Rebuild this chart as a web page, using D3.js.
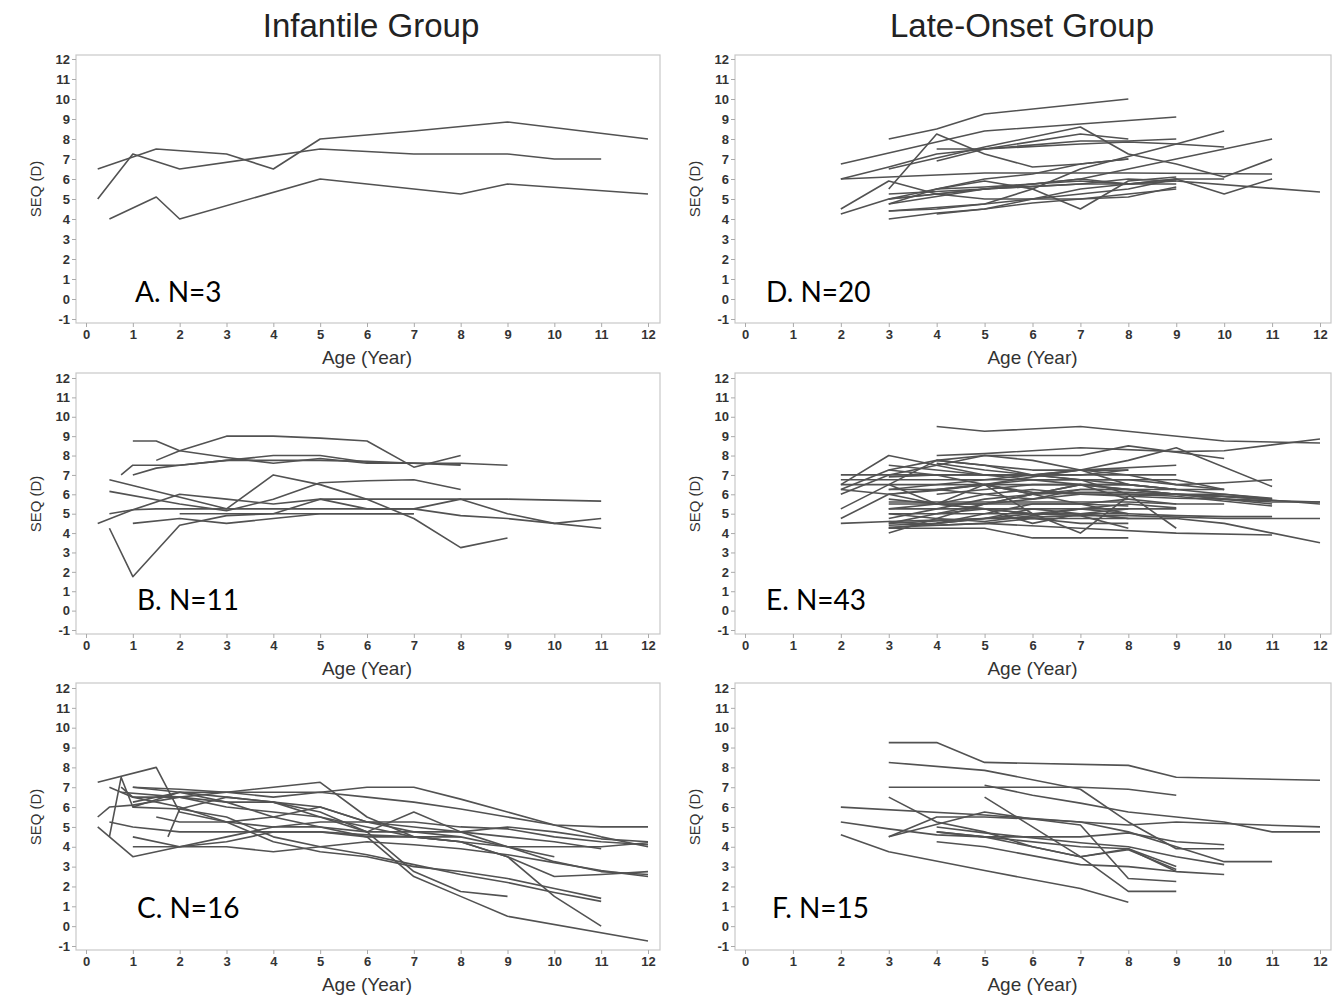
<!DOCTYPE html>
<html>
<head>
<meta charset="utf-8">
<script src="https://cdn.jsdelivr.net/npm/d3@7"></script>
<style>
  body { margin: 0; background: #fff; }
  svg { display: block; font-family: "Liberation Sans", Arial, sans-serif; }
  .tick text { font-weight: bold; fill: #333; font-size: 13px; }
  .tick line { stroke: #aaa; }
  .frame { fill: none; stroke: #c8c8c8; stroke-width: 1.2; }
  .subject { fill: none; stroke: #525252; stroke-width: 1.6; stroke-linejoin: round; }
  .axisTitle { fill: #333; }
  .panelLabel { font-family: Lato, "Open Sans", sans-serif; font-size: 28px; fill: #000; }
  .groupTitle { font-size: 33px; fill: #222; text-anchor: middle; }
</style>
</head>
<body>
<svg id="chart" width="1341" height="996"></svg>
<script>

// tick labels
var xTickValues = [0, 1, 2, 3, 4, 5, 6, 7, 8, 9, 10, 11, 12];
var yTickValues = [-1, 0, 1, 2, 3, 4, 5, 6, 7, 8, 9, 10, 11, 12];
var groupTitles = ["Infantile Group", "Late-Onset Group"];

// each subject: list of [age (year), SEQ (D)]
var panelA = [
    [[0.25,5.0],[1,7.25],[2,6.5],[5,7.5],[7,7.25],[9,7.25],[10,7.0],[11,7.0]],
    [[0.25,6.5],[1.5,7.5],[3,7.25],[4,6.5],[5,8.0],[7,8.4],[9,8.85],[12,8.0]],
    [[0.5,4.0],[1.5,5.1],[2,4.0],[5,6.0],[8,5.25],[9,5.75],[12,5.25]]
];

var panelB = [
    [[1,8.75],[1.5,8.75],[2,8.25],[3,7.9],[4,7.6],[5,7.85],[6,7.6],[7,7.6],[8,7.5]],
    [[1.5,7.75],[2,8.25],[3,9.0],[4,9.0],[5,8.9],[6,8.75],[7,7.4],[8,8.0]],
    [[0.75,7.0],[1,7.5],[2,7.5],[3,7.75],[4,8.0],[5,8.0],[6,7.65],[7,7.6],[8,7.6],[9,7.5]],
    [[1,7.0],[1.5,7.35],[2,7.5],[3,7.75],[4,7.75],[5,7.75],[6,7.7],[7,7.6],[8,7.55]],
    [[0.5,6.75],[3,5.25],[4,7.0],[5,6.5],[6,5.75],[7,4.75],[8,3.25],[9,3.75]],
    [[0.5,6.15],[2,5.5],[3,5.15],[4,5.75],[5,6.6],[6,6.7],[7,6.75],[8,6.25]],
    [[0.25,4.5],[1,5.2],[2,6.0],[3,5.75],[4,5.5],[5,5.75],[6,5.75],[7,5.75],[8,5.75],[9,5.75],[10,5.7],[11,5.65]],
    [[0.5,4.25],[1,1.75],[2,4.4],[3,4.9],[4,5.0],[5,5.75],[6,5.25],[7,5.25],[8,5.75],[9,5.0],[10,4.5],[11,4.25]],
    [[1,4.5],[2,4.75],[3,4.5],[4,4.75],[5,5.0],[6,5.0],[7,5.0]],
    [[0.5,5.0],[1,5.2],[1.5,5.25],[2,5.25],[7,5.25],[8,4.9],[9,4.75],[10,4.5],[11,4.75]],
    [[2,5.0],[4,5.0],[7,5.0]]
];

var panelC = [
    [[0.25,7.25],[1.5,8.0],[2,5.75],[3,5.25],[4,5.0],[5,5.0],[6,4.75],[7,4.75],[8,4.75],[9,5.0],[10,4.75],[11,4.4],[12,4.25]],
    [[0.5,4.5],[0.75,7.5],[1,6.0],[2,6.75],[3,6.75],[4,7.0],[5,7.25],[6,5.5],[7,4.5],[8,4.25],[9,3.5],[10,1.5],[11,0.0]],
    [[0.25,5.0],[1,3.5],[2,4.0],[3,4.5],[4,5.0],[5,5.25],[6,5.25],[7,5.25],[8,5.0],[9,4.9],[10,4.5],[11,4.25],[12,4.1]],
    [[0.25,5.5],[0.5,6.0],[1,6.1],[2,6.5],[3,6.75],[4,6.75],[5,6.75],[6,7.0],[7,7.0],[8,6.4],[9,5.75],[10,5.1],[11,4.5],[12,4.0]],
    [[0.5,7.0],[1,6.5],[2,6.0],[3,5.25],[4,4.25],[5,3.75],[6,3.5],[7,3.0],[8,2.75],[9,2.4],[10,1.9],[11,1.4]],
    [[0.5,5.25],[1,5.0],[2,4.75],[3,4.75],[4,4.75],[5,4.75],[6,4.5],[7,4.5],[8,4.25],[9,3.5],[10,2.5],[11,2.6],[12,2.75]],
    [[1,4.5],[2,4.0],[3,4.0],[4,3.75],[5,4.0],[6,4.25],[7,4.1],[8,3.9],[9,3.6],[10,3.2],[11,2.8],[12,2.5]],
    [[1,7.0],[2,6.9],[3,6.75],[4,6.5],[5,6.75],[6,6.5],[7,6.25],[8,5.9],[9,5.5],[10,5.1],[11,5.0],[12,5.0]],
    [[1,6.25],[2,6.75],[3,6.25],[4,5.5],[5,5.0],[6,4.5],[7,2.5],[8,1.5],[9,0.5],[12,-0.75]],
    [[0.75,6.75],[2,6.5],[3,6.0],[4,5.75],[5,5.5],[6,4.75],[7,2.75],[8,1.75],[9,1.5]],
    [[1.5,5.5],[2,5.25],[3,5.25],[4,5.5],[5,6.0],[6,5.25],[7,4.75],[8,4.5],[9,4.0],[10,3.5]],
    [[1,6.0],[2,5.9],[3,5.5],[4,4.5],[5,4.0],[6,3.6],[7,3.1],[8,2.6],[9,2.2],[10,1.7],[11,1.25]],
    [[1,7.0],[2,6.75],[3,6.5],[4,6.25],[5,6.0],[6,5.25],[7,5.0],[8,4.75],[9,4.5],[10,4.25],[11,3.9]],
    [[1.75,4.5],[2,5.9],[3,6.5],[4,6.25],[5,5.75],[6,4.75],[7,5.75],[8,4.75],[9,4.0],[10,3.25],[11,2.75],[12,2.6]],
    [[1,4.0],[2,4.0],[3,4.25],[4,4.75],[5,4.75],[6,4.6],[7,4.5],[8,4.5]],
    [[0.75,7.0],[1,6.5],[2,6.5],[3,6.25],[4,6.25],[5,5.5],[6,5.0],[7,4.5],[8,4.25],[9,4.0],[10,4.0],[11,4.0],[12,4.2]]
];

var panelD = [
    [[3,8.0],[4,8.5],[5,9.25],[8,10.0]],
    [[2,6.75],[5,8.4],[7,8.75],[9,9.1]],
    [[3,5.5],[4,8.25],[5,7.25],[6,6.6],[7,6.75],[8,7.0]],
    [[3,6.5],[5,7.6],[7,8.6],[8,7.25],[9,6.75],[10,6.1],[11,7.0]],
    [[4,7.5],[5,7.5],[7,7.75],[8,7.85],[9,7.75],[10,7.6]],
    [[4,6.9],[5,7.5],[7,8.25],[8,8.0]],
    [[2,6.0],[5,6.3],[8,6.3],[11,6.25]],
    [[2,6.0],[3,6.6],[4,7.25],[5,7.5],[7,7.9],[8,7.9],[9,8.0]],
    [[3,4.4],[5,4.75],[6,5.5],[7,6.5],[9,7.75],[10,8.4]],
    [[3,4.75],[5,5.5],[7,6.0],[9,7.0],[11,8.0]],
    [[3,5.0],[5,5.5],[7,5.75],[8,6.0],[9,5.9],[12,5.35]],
    [[3,5.25],[5,5.5],[7,5.75],[8,5.75],[9,6.0],[10,5.25],[11,6.0]],
    [[3,5.0],[4,5.5],[5,5.9],[6,5.5],[7,4.5],[8,5.9],[9,6.1]],
    [[2,4.5],[3,5.9],[4,5.25],[5,5.0],[6,5.0],[7,5.25],[8,5.5],[9,6.0]],
    [[2,4.25],[3,5.0],[4,5.25],[5,5.5],[6,5.75],[7,5.9],[8,5.75],[9,5.9]],
    [[3,4.4],[4,4.5],[5,4.75],[6,5.0],[7,5.0],[8,5.25],[9,5.5]],
    [[3,4.0],[4,4.3],[5,4.5],[6,4.8],[7,5.0],[8,5.1],[9,5.6]],
    [[4,4.25],[5,4.5],[6,5.0],[7,5.5],[8,5.75],[9,6.0],[10,6.0]],
    [[3,4.75],[4,5.5],[5,6.0],[6,6.25],[7,6.75],[8,7.0]],
    [[4,5.5],[5,5.6],[6,5.75],[7,6.0],[8,5.75],[9,5.75]]
];

var panelE = [
    [[4,9.5],[5,9.25],[7,9.5],[10,8.75],[12,8.65]],
    [[4,8.0],[5,8.1],[7,8.4],[9,8.2],[10,8.25],[12,8.85]],
    [[4,7.75],[5,8.0],[7,8.0],[8,8.5],[10,7.85]],
    [[3,6.25],[5,6.75],[7,7.25],[8,7.75],[9,8.4],[11,6.4]],
    [[2,6.5],[3,8.0],[4,7.5],[5,7.0],[7,6.5],[9,6.0],[11,5.75]],
    [[2,7.0],[3,7.0],[5,7.0],[7,7.0],[8,7.0],[9,7.0]],
    [[2,6.75],[4,6.75],[6,6.75],[8,6.75],[9,6.75],[10,6.25]],
    [[2,6.5],[4,6.5],[6,6.5],[8,6.5]],
    [[2,6.25],[3,7.25],[4,7.75],[5,7.5],[6,7.25],[7,7.25],[8,7.25]],
    [[2,6.0],[3,7.0],[4,7.5],[5,8.0],[6,7.75],[7,7.25],[8,6.5],[9,6.25]],
    [[2,5.25],[3,6.5],[4,7.75],[5,7.5],[6,7.0],[7,7.0],[8,7.25]],
    [[2,4.75],[3,6.0],[4,6.25],[5,6.5],[6,6.0],[7,6.25],[8,6.25],[9,6.0],[10,5.75],[11,5.5]],
    [[2,4.5],[3,4.6],[5,4.75],[7,4.9],[8,4.9],[10,4.75],[12,4.75]],
    [[3,7.5],[4,7.25],[5,7.0],[6,7.0],[7,7.25],[9,7.5]],
    [[3,7.25],[4,7.0],[5,6.5],[6,6.1],[7,6.0],[8,5.9],[9,5.8],[10,5.75],[12,5.6]],
    [[3,6.9],[4,7.0],[6,7.0],[7,6.75],[8,6.0],[9,4.25]],
    [[3,6.5],[4,5.5],[5,5.25],[6,5.0],[7,4.9],[8,4.25]],
    [[3,6.0],[4,6.2],[5,6.5],[6,6.9],[7,7.25],[8,7.0],[9,6.5],[10,6.25]],
    [[3,5.75],[4,5.5],[5,6.5],[6,5.0],[7,4.0],[8,5.9],[9,6.0],[10,6.0],[11,5.75]],
    [[3,5.6],[5,5.6],[7,5.6],[8,5.6],[9,5.5],[10,5.5]],
    [[3,5.5],[5,5.5],[7,5.5],[8,5.4]],
    [[3,5.25],[5,5.25],[7,5.25],[8,5.25],[9,5.25]],
    [[3,5.0],[5,5.0],[7,5.0],[8,5.0],[9,4.9],[10,4.85],[11,4.85]],
    [[3,4.75],[4,5.25],[5,5.75],[6,6.0],[7,6.1],[8,6.1],[9,6.0],[10,5.9],[11,5.75]],
    [[3,4.5],[4,5.0],[5,5.5],[6,5.75],[7,6.0],[8,6.0],[9,5.9],[11,5.4]],
    [[3,4.4],[4,4.5],[5,5.0],[6,5.5],[7,5.5],[8,5.75]],
    [[3,4.25],[4,4.5],[5,4.75],[6,5.0],[7,5.25],[8,5.0]],
    [[3,4.0],[4,4.75],[5,5.5],[6,6.0],[7,6.5],[8,6.25],[9,6.0],[10,5.9],[12,5.5]],
    [[3,4.25],[5,4.25],[6,3.75],[8,3.75]],
    [[3,4.3],[5,4.5],[7,4.25],[9,4.0],[11,3.9]],
    [[3,4.5],[5,4.75],[7,4.75],[9,4.75],[10,4.5],[12,3.5]],
    [[4,5.5],[5,5.5],[6,6.0],[7,6.5],[8,5.75],[9,5.5]],
    [[4,5.0],[5,5.25],[6,4.5],[7,5.0],[8,5.25]],
    [[4,4.5],[5,4.75],[6,5.25],[7,5.0],[8,4.75],[9,4.75]],
    [[4,6.25],[5,6.5],[6,6.75],[7,6.75],[8,6.75],[9,6.5],[10,6.6],[11,6.75]],
    [[4,6.0],[5,6.25],[6,6.5],[7,6.5],[8,6.5],[9,6.25],[10,6.25]],
    [[5,6.5],[6,6.0],[7,5.5],[8,5.0]],
    [[3,6.25],[4,6.25],[5,6.0],[6,5.75],[7,6.25],[8,6.25],[9,6.25]],
    [[3,4.6],[4,4.4],[5,4.5],[6,4.75],[7,4.5],[8,4.5]],
    [[2,6.25],[3,6.0],[4,5.5],[5,5.25],[6,5.0],[7,5.0],[8,4.75]],
    [[3,5.25],[4,5.5],[5,6.0],[6,6.25],[7,6.0],[8,6.0],[9,6.0],[10,5.75],[11,5.6],[12,5.6]],
    [[3,5.0],[4,4.75],[5,4.6],[6,4.9],[7,5.25],[8,5.5],[9,5.3]],
    [[4,7.6],[5,7.25],[6,7.0],[7,6.75],[8,6.5],[9,6.25],[10,6.0],[11,5.8]]
];

var panelF = [
    [[3,9.25],[4,9.25],[5,8.25],[8,8.1],[9,7.5],[12,7.35]],
    [[3,8.25],[5,7.85],[7,6.9],[8,5.25],[9,3.9],[10,3.9]],
    [[3,7.0],[7,7.0],[8,6.9],[9,6.6]],
    [[5,7.1],[6,6.6],[7,6.2],[8,5.75],[9,5.5],[10,5.25],[11,4.75],[12,4.75]],
    [[2,6.0],[5,5.6],[7,5.25],[8,5.1],[9,5.25],[12,5.0]],
    [[2,5.25],[3,4.9],[4,4.6],[5,4.5],[7,4.5],[8,4.7],[9,4.25],[10,4.1]],
    [[2,4.6],[3,3.75],[5,2.8],[7,1.9],[8,1.2]],
    [[3,6.5],[4,5.25],[5,4.75],[6,4.0],[7,3.5],[8,3.9],[9,2.75]],
    [[5,6.5],[6,5.0],[7,3.5],[8,1.75],[9,1.75]],
    [[3,4.5],[5,5.75],[6,5.4],[7,5.1],[8,2.4],[9,2.25]],
    [[3,4.5],[4,5.5],[5,5.5],[6,5.4],[7,5.25],[8,4.75],[9,4.0],[10,3.25],[11,3.25]],
    [[4,4.75],[5,4.5],[6,4.0],[7,3.5],[8,3.85],[9,2.85]],
    [[4,4.25],[5,4.0],[7,3.1],[8,3.0],[9,2.75],[10,2.6]],
    [[4,5.0],[5,4.7],[7,4.2],[8,4.0],[9,3.5],[10,3.1]],
    [[4,4.75],[5,4.5],[7,4.0],[8,3.9],[9,3.0]]
];

// page layout: two columns, three rows of panels
var columns = [
    {frameLeft: 76, frameRight: 660, x0: 86, x12: 648, titleX: 371},
    {frameLeft: 735, frameRight: 1331, x0: 745, x12: 1320, titleX: 1022}
];
var rows = [
    {frameTop: 55, frameBottom: 323, y12: 59, yMinus1: 319, labelY: 302},
    {frameTop: 373, frameBottom: 634, y12: 378, yMinus1: 630, labelY: 610},
    {frameTop: 683, frameBottom: 950, y12: 688, yMinus1: 946, labelY: 918}
];

var panels = [
    {data: panelA, col: 0, row: 0, label: "A. N=3", labelX: 135},
    {data: panelB, col: 0, row: 1, label: "B. N=11", labelX: 137},
    {data: panelC, col: 0, row: 2, label: "C. N=16", labelX: 137},
    {data: panelD, col: 1, row: 0, label: "D. N=20", labelX: 766},
    {data: panelE, col: 1, row: 1, label: "E. N=43", labelX: 766},
    {data: panelF, col: 1, row: 2, label: "F. N=15", labelX: 772}
];

var svg = d3.select("#chart");

svg.selectAll("text.groupTitle")
    .data(groupTitles)
    .enter()
    .append("text")
    .attr("class", "groupTitle")
    .attr("x", function(d, i){ return columns[i].titleX; })
    .attr("y", 37)
    .text(function(d){ return d; });

// plain hyphen for negatives, like the original figure
var plainNumber = function(d){ return String(d); };

panels.forEach(function(p){
    var c = columns[p.col];
    var r = rows[p.row];

    var x = d3.scaleLinear().domain([0, 12]).range([c.x0, c.x12]);
    var y = d3.scaleLinear().domain([-1, 12]).range([r.yMinus1, r.y12]);

    var g = svg.append("g");

    g.append("rect")
        .attr("class", "frame")
        .attr("x", c.frameLeft)
        .attr("y", r.frameTop)
        .attr("width", c.frameRight - c.frameLeft)
        .attr("height", r.frameBottom - r.frameTop);

    var yAxis = g.append("g")
        .attr("transform", "translate(" + c.frameLeft + ",0)")
        .call(d3.axisLeft(y).tickValues(yTickValues).tickFormat(plainNumber).tickSize(4).tickPadding(2));
    yAxis.select(".domain").remove();

    var xAxis = g.append("g")
        .attr("transform", "translate(0," + r.frameBottom + ")")
        .call(d3.axisBottom(x).tickValues(xTickValues).tickFormat(plainNumber).tickSize(4).tickPadding(3));
    xAxis.select(".domain").remove();

    g.append("text")
        .attr("class", "axisTitle")
        .attr("x", (c.x0 + c.x12) / 2)
        .attr("y", r.frameBottom + 41)
        .attr("text-anchor", "middle")
        .style("font-size", "19px")
        .text("Age (Year)");

    g.append("text")
        .attr("class", "axisTitle")
        .attr("transform", "translate(" + (c.frameLeft - 35) + "," + ((r.y12 + r.yMinus1) / 2) + ") rotate(-90)")
        .attr("text-anchor", "middle")
        .style("font-size", "15px")
        .text("SEQ (D)");

    var line = d3.line()
        .x(function(d){ return x(d[0]); })
        .y(function(d){ return y(d[1]); });

    g.selectAll("path.subject")
        .data(p.data)
        .enter()
        .append("path")
        .attr("class", "subject")
        .attr("d", line);

    g.append("text")
        .attr("class", "panelLabel")
        .attr("x", p.labelX)
        .attr("y", r.labelY)
        .text(p.label);
});

</script>
</body>
</html>
